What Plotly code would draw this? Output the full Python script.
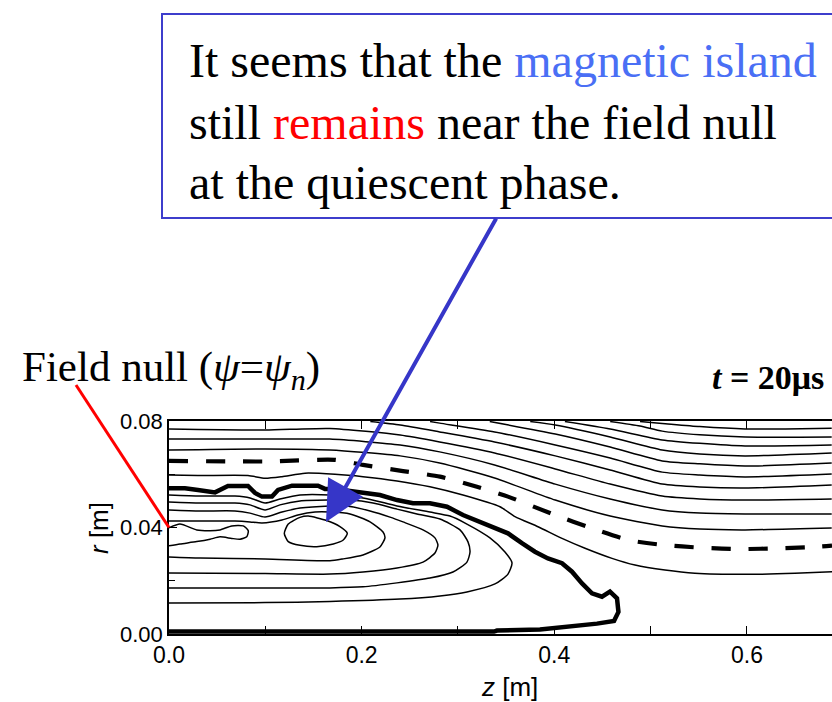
import plotly.graph_objects as go

# ---------------- flux-surface contours (z [m], r [m]) ----------------
# open field lines above the separatrix, top to bottom
u1_z = [0.489, 0.512, 0.551, 0.598, 0.640, 0.688]
u1_r = [0.0798, 0.0791, 0.0779, 0.0770, 0.0770, 0.0773]
u2_z = [0.458, 0.489, 0.512, 0.551, 0.598, 0.688]
u2_r = [0.0798, 0.0781, 0.0762, 0.0748, 0.0740, 0.0740]
u3_z = [0.411, 0.458, 0.512, 0.551, 0.598, 0.688]
u3_r = [0.0798, 0.0770, 0.0729, 0.0716, 0.0706, 0.0710]
u4_z = [0.375, 0.401, 0.458, 0.512, 0.551, 0.598, 0.688]
u4_r = [0.0798, 0.0785, 0.0740, 0.0691, 0.0676, 0.0669, 0.0680]
u5_z = [0.333, 0.401, 0.458, 0.512, 0.551, 0.598, 0.688]
u5_r = [0.0798, 0.0751, 0.0702, 0.0650, 0.0639, 0.0631, 0.0642]
u6_z = [0.271, 0.281, 0.338, 0.401, 0.458, 0.512, 0.551, 0.598, 0.688]
u6_r = [0.0798, 0.0792, 0.0759, 0.0710, 0.0661, 0.0608, 0.0597, 0.0590, 0.0601]
u7_z = [0.209, 0.240, 0.281, 0.338, 0.401, 0.458, 0.512, 0.551, 0.598, 0.688]
u7_r = [0.0798, 0.0785, 0.0759, 0.0721, 0.0669, 0.0616, 0.0563, 0.0552, 0.0548, 0.0560]
u_z = [0.0, 0.100, 0.167, 0.240, 0.281, 0.338, 0.401, 0.458, 0.512, 0.551, 0.598, 0.688]
u8_r = [0.0770, 0.0766, 0.0772, 0.0747, 0.0721, 0.0680, 0.0620, 0.0563, 0.0518, 0.0507, 0.0503, 0.0507]
u9_r = [0.0732, 0.0732, 0.0732, 0.0710, 0.0684, 0.0635, 0.0563, 0.0507, 0.0466, 0.0454, 0.0451, 0.0451]
u10_r = [0.0691, 0.0695, 0.0691, 0.0669, 0.0642, 0.0586, 0.0503, 0.0443, 0.0406, 0.0394, 0.0391, 0.0398]

# dashed reference surface
dash_z = [0.0, 0.0997, 0.1723, 0.2014, 0.2429, 0.2813, 0.3197, 0.3519, 0.4007,
          0.4391, 0.4765, 0.5118, 0.5533, 0.5948, 0.6332, 0.6748, 0.6883]
dash_r = [0.0650, 0.0648, 0.0654, 0.0635, 0.0612, 0.0591, 0.0553, 0.0516, 0.0447,
          0.0397, 0.0353, 0.0335, 0.0324, 0.0319, 0.0322, 0.0328, 0.0332]

# open line just above the separatrix
d_z = [0.0, 0.0301, 0.0820, 0.0997, 0.1173, 0.1412, 0.1723, 0.2014, 0.2367, 0.2709,
       0.3052, 0.3436, 0.3592, 0.3831, 0.4080, 0.4319, 0.4599, 0.4838, 0.5149,
       0.5460, 0.5979, 0.6498, 0.6883]
d_r = [0.0597, 0.0595, 0.0595, 0.0585, 0.0591, 0.0604, 0.0600, 0.0591, 0.0575, 0.0553,
       0.0522, 0.0478, 0.0441, 0.0403, 0.0359, 0.0322, 0.0284, 0.0259, 0.0240,
       0.0228, 0.0224, 0.0228, 0.0234]

# separatrix through the field null (psi = psi_n)
sep_z = [0.0, 0.0166, 0.0301, 0.0478, 0.0612, 0.0820, 0.0893, 0.0965, 0.1069, 0.1132,
         0.1277, 0.1547, 0.1619, 0.1723, 0.1879, 0.2014, 0.2190, 0.2367, 0.2533, 0.2709,
         0.2886, 0.3052, 0.3228, 0.3384, 0.3519, 0.3664, 0.3799, 0.3934, 0.4080, 0.4184,
         0.4288, 0.4391, 0.4495, 0.4578, 0.4651, 0.4666, 0.4620, 0.4443, 0.4267, 0.4028,
         0.3851, 0.3405, 0.3374, 0.0]
sep_r = [0.0547, 0.0547, 0.0541, 0.0532, 0.0556, 0.0556, 0.0530, 0.0516, 0.0516, 0.0541,
         0.0557, 0.0557, 0.0545, 0.0545, 0.0537, 0.0532, 0.0522, 0.0503, 0.0491, 0.0491,
         0.0478, 0.0447, 0.0422, 0.0397, 0.0378, 0.0341, 0.0309, 0.0284, 0.0266, 0.0234,
         0.0190, 0.0153, 0.0140, 0.0159, 0.0134, 0.0083, 0.0049, 0.0039, 0.0032, 0.0021,
         0.0017, 0.0013, 0.0009, 0.0009]

# closed-on-the-axis surfaces inside the separatrix (outer to inner)
loop5_z = [0.0, 0.0322, 0.0685, 0.0841, 0.0997, 0.1152, 0.1360, 0.1671, 0.2014, 0.2367,
           0.2709, 0.2917, 0.3093, 0.3332, 0.3488, 0.3561, 0.3519, 0.3384, 0.3093, 0.2813,
           0.2398, 0.1671, 0.0997, 0.0]
loop5_r = [0.0522, 0.0518, 0.0518, 0.0511, 0.0492, 0.0507, 0.0522, 0.0522, 0.0511, 0.0481,
           0.0458, 0.0443, 0.0413, 0.0361, 0.0308, 0.0267, 0.0225, 0.0188, 0.0158, 0.0143,
           0.0131, 0.0122, 0.0118, 0.0116]
loop4_z = [0.0, 0.0322, 0.0685, 0.0841, 0.0997, 0.1152, 0.1360, 0.1671, 0.1879, 0.2118,
           0.2367, 0.2574, 0.2813, 0.3021, 0.3104, 0.3125, 0.3093, 0.2948, 0.2709, 0.2367,
           0.2014, 0.1671, 0.0997, 0.0]
loop4_r = [0.0496, 0.0492, 0.0492, 0.0485, 0.0466, 0.0485, 0.0500, 0.0503, 0.0503, 0.0492,
           0.0469, 0.0451, 0.0432, 0.0391, 0.0346, 0.0308, 0.0270, 0.0233, 0.0210, 0.0192,
           0.0177, 0.0173, 0.0173, 0.0173]
loop3_z = [0.0, 0.0322, 0.0685, 0.0841, 0.0997, 0.1173, 0.1360, 0.1671, 0.1848, 0.2087,
           0.2294, 0.2429, 0.2637, 0.2761, 0.2792, 0.2761, 0.2637, 0.2367, 0.2014, 0.1671,
           0.0997, 0.0]
loop3_r = [0.0466, 0.0462, 0.0462, 0.0454, 0.0439, 0.0458, 0.0473, 0.0481, 0.0481, 0.0462,
           0.0439, 0.0421, 0.0391, 0.0361, 0.0334, 0.0304, 0.0270, 0.0248, 0.0233, 0.0225,
           0.0227, 0.0229]
loop2_z = [0.0, 0.0322, 0.0685, 0.0841, 0.0965, 0.1173, 0.1339, 0.1516, 0.1671, 0.1879,
           0.2087, 0.2222, 0.2242, 0.2190, 0.2014, 0.1806, 0.1671, 0.0997, 0.0322, 0.0]
loop2_r = [0.0424, 0.0424, 0.0424, 0.0421, 0.0417, 0.0428, 0.0447, 0.0458, 0.0458, 0.0451,
           0.0421, 0.0383, 0.0361, 0.0327, 0.0297, 0.0282, 0.0275, 0.0282, 0.0285, 0.0289]

# magnetic island (O-point near z = 0.15 m)
island_z = [0.1197, 0.1238, 0.1360, 0.1446, 0.1637, 0.1775, 0.1851, 0.1809, 0.1706,
            0.1533, 0.1360, 0.1238, 0.1197]
island_r = [0.0378, 0.0413, 0.0438, 0.0443, 0.0426, 0.0403, 0.0378, 0.0353, 0.0338,
            0.0328, 0.0333, 0.0347, 0.0378]

# small lobe attached to the z = 0 boundary
lobe_z = [0.0, 0.0114, 0.0288, 0.0426, 0.0529, 0.0651, 0.0771, 0.0823, 0.0807, 0.0737,
          0.0651, 0.0529, 0.0426, 0.0288, 0.0114, 0.0]
lobe_r = [0.0399, 0.0413, 0.0391, 0.0388, 0.0391, 0.0406, 0.0406, 0.0388, 0.0365, 0.0356,
          0.0359, 0.0365, 0.0356, 0.0347, 0.0338, 0.0331]

# axes
z_range = [0.0, 0.6883]
r_range = [0.0, 0.08]
z_ticks = [0.0, 0.2, 0.4, 0.6]
z_ticktext = ["0.0", "0.2", "0.4", "0.6"]
r_ticks = [0.0, 0.04, 0.08]
r_ticktext = ["0.00", "0.04", "0.08"]

SERIF = "Liberation Serif, Times New Roman, serif"
SANS = "Liberation Sans, Arial, sans-serif"
BLUE_EDGE = "#3d3dcc"
BLUE_TEXT = "#4a6ff5"

fig = go.Figure()

thin = [(u1_z, u1_r), (u2_z, u2_r), (u3_z, u3_r), (u4_z, u4_r), (u5_z, u5_r),
        (u6_z, u6_r), (u7_z, u7_r), (u_z, u8_r), (u_z, u9_r), (u_z, u10_r),
        (d_z, d_r), (loop5_z, loop5_r), (loop4_z, loop4_r), (loop3_z, loop3_r),
        (loop2_z, loop2_r), (island_z, island_r), (lobe_z, lobe_r)]
for zz, rr in thin:
    fig.add_trace(go.Scatter(x=zz, y=rr, mode="lines",
                             line=dict(color="black", width=1.5, shape="spline", smoothing=0.6),
                             hoverinfo="skip", showlegend=False))

fig.add_trace(go.Scatter(x=dash_z, y=dash_r, mode="lines",
                         line=dict(color="black", width=4.2, dash="19px,18px",
                                   shape="spline", smoothing=0.6),
                         hoverinfo="skip", showlegend=False))
fig.add_trace(go.Scatter(x=sep_z, y=sep_r, mode="lines",
                         line=dict(color="black", width=4.5),
                         hoverinfo="skip", showlegend=False))

L, T = 169, 421
W, H = 663, 213


def px(X):
    return (X - L) / W


def py(Y):
    return (T + H - Y) / H


shapes = [
    # callout box
    dict(type="rect", xref="paper", yref="paper",
         x0=px(162), x1=px(900), y0=py(218), y1=py(14),
         line=dict(color=BLUE_EDGE, width=2), fillcolor="white", layer="above"),
    # pointer from the field-null label to the axis
    dict(type="line", xref="paper", yref="paper",
         x0=px(76), y0=py(385), x1=0.0, y1=0.5,
         line=dict(color="red", width=3)),
]

annotations = [
    dict(xref="paper", yref="paper", x=px(187), y=py(60), xanchor="left", yanchor="middle",
         showarrow=False, font=dict(family=SERIF, size=48, color="black"),
         text='It seems that the <span style="color:%s">magnetic island</span>' % BLUE_TEXT),
    dict(xref="paper", yref="paper", x=px(187), y=py(122), xanchor="left", yanchor="middle",
         showarrow=False, font=dict(family=SERIF, size=48, color="black"),
         text='still <span style="color:#ff0000">remains</span> near the field null'),
    dict(xref="paper", yref="paper", x=px(187), y=py(183), xanchor="left", yanchor="middle",
         showarrow=False, font=dict(family=SERIF, size=48, color="black"),
         text="at the quiescent phase."),
    dict(xref="paper", yref="paper", x=px(20), y=py(370), xanchor="left", yanchor="middle",
         showarrow=False, font=dict(family=SERIF, size=43, color="black"),
         text="Field null (<i>ψ</i>=<i>ψ</i><sub><i>n</i></sub>)"),
    dict(xref="paper", yref="paper", x=px(710), y=py(377), xanchor="left", yanchor="middle",
         showarrow=False, font=dict(family=SERIF, size=34, color="black"),
         text="<b><i>t</i> = 20μs</b>"),
    # arrow to the island
    dict(xref="x", yref="y", x=0.163, y=0.0421, ax=171, ay=-305,
         showarrow=True, arrowhead=2, arrowsize=2.0, arrowwidth=4,
         arrowcolor="#3636c8", text=""),
    # axis titles
    dict(xref="paper", yref="paper", x=px(99), y=py(528), xanchor="center", yanchor="middle",
         textangle=-90, showarrow=False, font=dict(family=SANS, size=26, color="black"),
         text="<i>r</i> [m]"),
    dict(xref="paper", yref="paper", x=px(510), y=py(687), xanchor="center", yanchor="middle",
         showarrow=False, font=dict(family=SANS, size=26, color="black"),
         text="<i>z</i> [m]"),
]

fig.update_layout(
    width=832, height=702,
    margin=dict(l=L, r=832 - L - W, t=T, b=702 - T - H, autoexpand=False),
    paper_bgcolor="white", plot_bgcolor="white",
    shapes=shapes, annotations=annotations,
    showlegend=False,
)
fig.update_xaxes(range=z_range, tickvals=z_ticks, ticktext=z_ticktext,
                 ticks="inside", ticklen=8, tickwidth=1.2, tickcolor="black",
                 minor=dict(dtick=0.1, tick0=0.0, ticks="inside", ticklen=8,
                            tickwidth=1.2, tickcolor="black"),
                 showline=True, linecolor="black", linewidth=1.6, mirror="ticks",
                 showgrid=False, zeroline=False,
                 tickfont=dict(family=SANS, size=23, color="black"))
fig.update_yaxes(range=r_range, tickvals=r_ticks, ticktext=r_ticktext,
                 ticks="inside", ticklen=8, tickwidth=1.2, tickcolor="black",
                 minor=dict(dtick=0.02, tick0=0.0, ticks="inside", ticklen=6,
                            tickwidth=1.2, tickcolor="black"),
                 showline=True, linecolor="black", linewidth=1.6, mirror=False,
                 showgrid=False, zeroline=False,
                 tickfont=dict(family=SANS, size=22, color="black"))

fig.write_html("out.html")
